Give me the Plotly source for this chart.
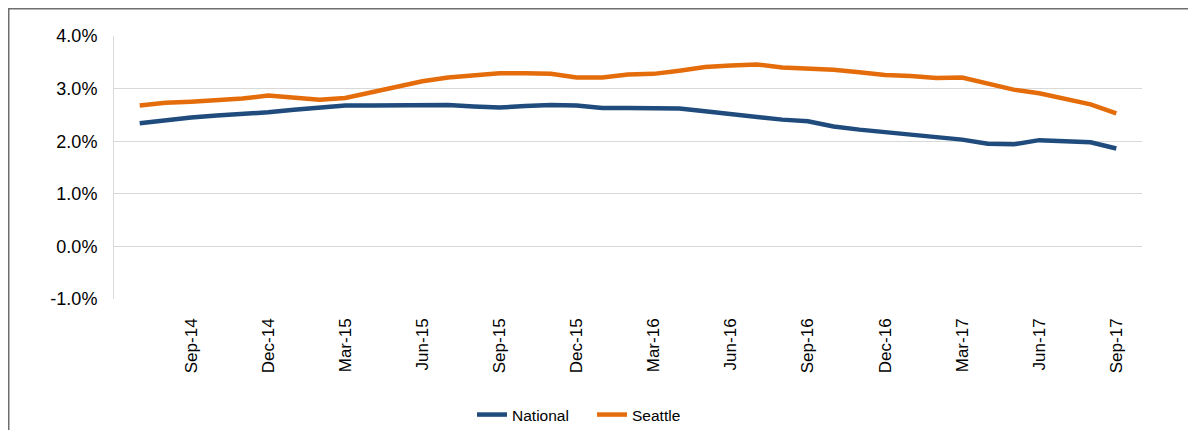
import plotly.graph_objects as go

months = ["Jul-14", "Aug-14", "Sep-14", "Oct-14", "Nov-14", "Dec-14",
          "Jan-15", "Feb-15", "Mar-15", "Apr-15", "May-15", "Jun-15",
          "Jul-15", "Aug-15", "Sep-15", "Oct-15", "Nov-15", "Dec-15",
          "Jan-16", "Feb-16", "Mar-16", "Apr-16", "May-16", "Jun-16",
          "Jul-16", "Aug-16", "Sep-16", "Oct-16", "Nov-16", "Dec-16",
          "Jan-17", "Feb-17", "Mar-17", "Apr-17", "May-17", "Jun-17",
          "Jul-17", "Aug-17", "Sep-17"]

national = [2.34, 2.40, 2.45, 2.49, 2.51, 2.55,
            2.60, 2.65, 2.68, 2.68, 2.68, 2.67,
            2.69, 2.66, 2.64, 2.67, 2.69, 2.68,
            2.63, 2.63, 2.63, 2.62, 2.57, 2.51,
            2.47, 2.41, 2.38, 2.28, 2.22, 2.17,
            2.13, 2.09, 2.03, 1.95, 1.94, 2.02,
            2.01, 1.98, 1.86]

seattle = [2.68, 2.73, 2.75, 2.78, 2.81, 2.87,
           2.82, 2.79, 2.82, 2.93, 3.04, 3.14,
           3.21, 3.25, 3.29, 3.29, 3.28, 3.21,
           3.21, 3.27, 3.28, 3.34, 3.41, 3.44,
           3.46, 3.40, 3.38, 3.36, 3.31, 3.26,
           3.24, 3.20, 3.21, 3.10, 2.98, 2.91,
           2.81, 2.70, 2.53]

x_tick_labels = ["Sep-14", "Dec-14", "Mar-15", "Jun-15", "Sep-15", "Dec-15",
                 "Mar-16", "Jun-16", "Sep-16", "Dec-16", "Mar-17", "Jun-17", "Sep-17"]

y_tick_vals = [-1, 0, 1, 2, 3, 4]
y_tick_text = ["-1.0%", "0.0%", "1.0%", "2.0%", "3.0%", "4.0%"]

FONT = "Liberation Sans, Arial, sans-serif"

fig = go.Figure()
fig.add_trace(go.Scatter(x=months, y=national, mode="lines", name="National",
                         line=dict(color="#1F4B7D", width=4.5)))
fig.add_trace(go.Scatter(x=months, y=seattle, mode="lines", name="Seattle",
                         line=dict(color="#E46C0A", width=4.5)))

L, T, PW, PH = 106, 28, 1028, 263

fig.update_layout(
    width=1196, height=430,
    margin=dict(l=L, r=1196 - L - PW, t=T, b=430 - T - PH, autoexpand=False),
    paper_bgcolor="white", plot_bgcolor="white",
    font=dict(family=FONT, color="#000000"),
    showlegend=True,
    legend=dict(orientation="h", x=0.465, xanchor="center", y=-0.441, yanchor="middle",
                font=dict(size=15.5, family=FONT, color="#000000"),
                bgcolor="rgba(0,0,0,0)", itemwidth=30,
                entrywidth=75, entrywidthmode="pixels"),
    xaxis=dict(type="category", range=[-1, 39], tickmode="array",
               tickvals=x_tick_labels, ticktext=x_tick_labels, tickangle=-90,
               showgrid=False, showline=False, zeroline=False, ticks="",
               automargin=False, ticklabelstandoff=15,
               tickfont=dict(size=17, family=FONT, color="#000000")),
    yaxis=dict(range=[-1, 4], tickmode="array", tickvals=y_tick_vals, ticktext=y_tick_text,
               showgrid=True, gridcolor="#D9D9D9", gridwidth=1, zeroline=False,
               showline=True, linecolor="#D9D9D9", linewidth=1, ticks="",
               automargin=False, ticklabelstandoff=12,
               tickfont=dict(size=18, family=FONT, color="#000000")),
    shapes=[dict(type="rect", xref="paper", yref="paper",
                 x0=(0.75 - L) / PW, x1=1.3, y0=-0.7, y1=1 + (T - 0.75) / PH,
                 line=dict(color="#6E6E6E", width=1.5), layer="below")],
)

fig.write_html("out.html")
